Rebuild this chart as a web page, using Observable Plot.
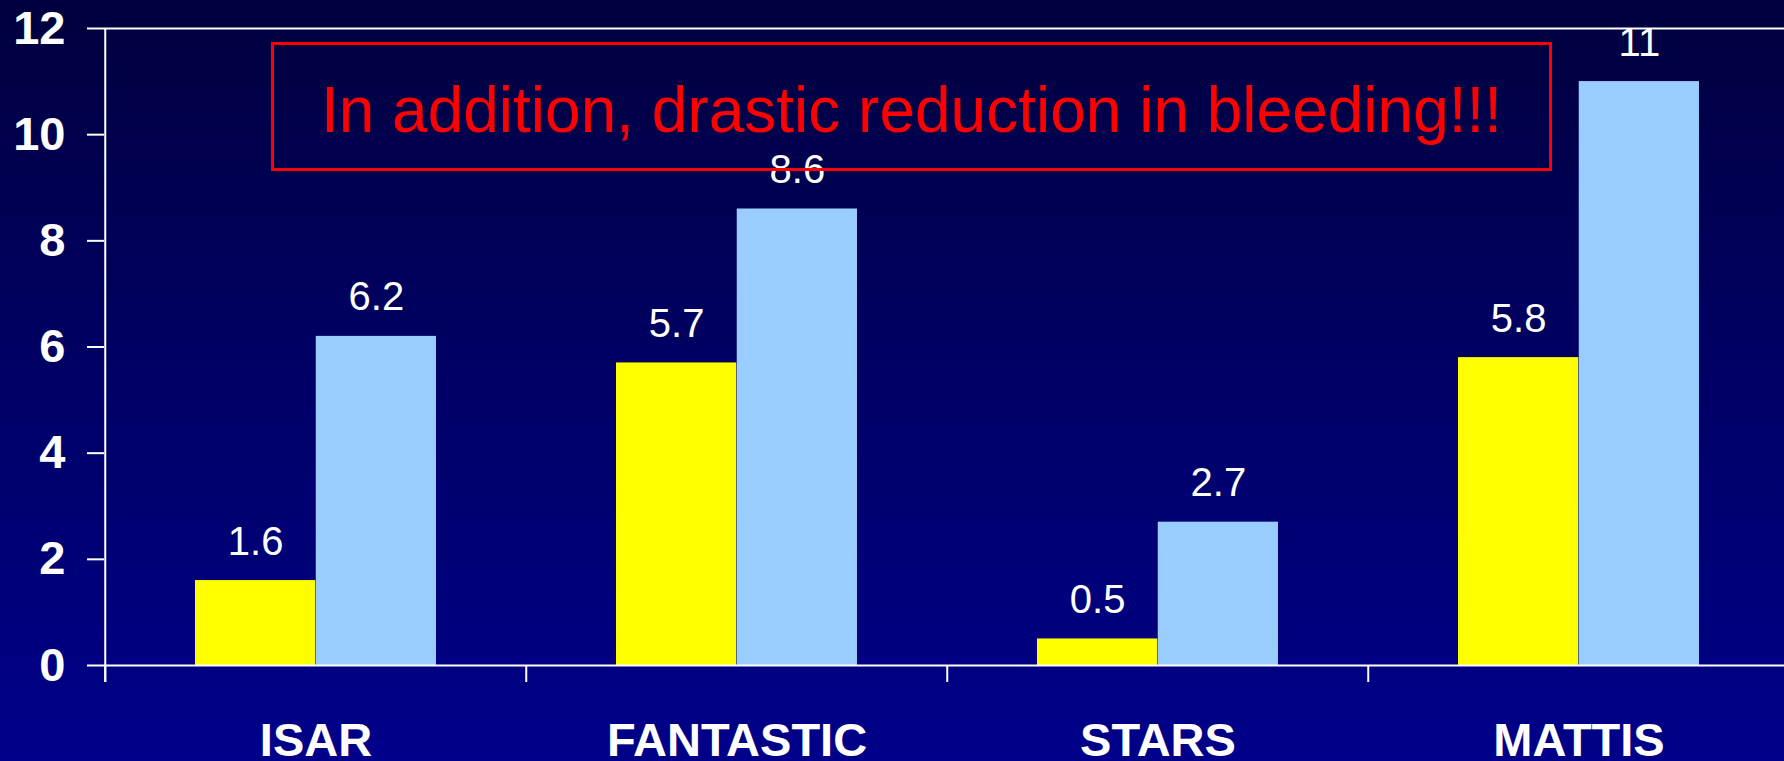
<!DOCTYPE html>
<html>
<head>
<meta charset="utf-8">
<script src="https://cdn.jsdelivr.net/npm/d3@7"></script>
<script src="https://cdn.jsdelivr.net/npm/@observablehq/plot@0.6"></script>
<style>
  html, body { margin: 0; padding: 0; }
  body {
    width: 1784px; height: 761px; overflow: hidden; position: relative;
    background: linear-gradient(to bottom, #00003e 0%, #000066 50%, #00008a 100%);
    font-family: "Liberation Sans", Arial, sans-serif;
  }
  #note {
    position: absolute; left: 271px; top: 42px; width: 1275px; height: 123px;
    border: 3px solid #ff0000; box-sizing: content-box;
    color: #ff0000; font-size: 64px; line-height: 1;
    display: flex; align-items: center; justify-content: center;
    white-space: nowrap; z-index: 2;
  }
  #chart { position: absolute; left: 0; top: 0; }
  #note span { position: relative; top: 3px; }
</style>
</head>
<body>
<div id="chart"></div>
<div id="note"><span>In addition, drastic reduction in bleeding!!!</span></div>
<script>
const categories = ["ISAR", "FANTASTIC", "STARS", "MATTIS"];
const yellowValues = [1.6, 5.7, 0.5, 5.8];
const blueValues = [6.2, 8.6, 2.7, 11];
const yTicks = [0, 2, 4, 6, 8, 10, 12];

const yellowData = categories.map((c, i) => ({category: c, value: yellowValues[i]}));
const blueData = categories.map((c, i) => ({category: c, value: blueValues[i]}));

const W = 1784, H = 761;
const xRange = [104, 1790];
const bw = (xRange[1] - xRange[0]) / categories.length;
const gap = 90;
const barW = (bw - 2 * gap) / 2;
const font = "Liberation Sans, Arial, sans-serif";

const chart = Plot.plot({
  width: W,
  height: H,
  marginTop: 28,
  marginBottom: 96,
  marginLeft: 104,
  marginRight: 0,
  style: {background: "transparent", color: "white", fontFamily: font, overflow: "visible"},
  x: {domain: categories, range: xRange, padding: 0},
  y: {domain: [0, 12], range: [665, 28]},
  marks: [
    Plot.barY(yellowData, {x: "category", y: "value", fill: "#ffff00", insetLeft: gap, insetRight: gap + barW}),
    Plot.barY(blueData, {x: "category", y: "value", fill: "#99ccff", insetLeft: gap + barW, insetRight: gap}),
    Plot.ruleY([12], {stroke: "white", strokeWidth: 2}),
    Plot.ruleY([0], {stroke: "white", strokeWidth: 2}),
    Plot.ruleX(categories, {x: d => d, y1: 0, y2: 0, insetBottom: -17, dx: -bw / 2, stroke: "white", strokeWidth: 2}),
    Plot.ruleX([categories[0]], {x: d => d, y1: 12, y2: 0, insetBottom: -17, dx: -bw / 2, stroke: "white", strokeWidth: 2}),
    Plot.text(yellowData, {x: "category", y: "value", text: d => String(d.value), dx: -barW / 2, dy: -26, lineAnchor: "bottom", fill: "white", fontSize: 40, fontFamily: font}),
    Plot.text(blueData, {x: "category", y: "value", text: d => String(d.value), dx: barW / 2, dy: -26, lineAnchor: "bottom", fill: "white", fontSize: 40, fontFamily: font}),
    Plot.axisY({ticks: yTicks, tickSize: 17, tickPadding: 22, tickFormat: d => String(d), fontSize: 47, fontWeight: "bold", stroke: "white", strokeWidth: 2, fill: "white", label: null}),
    Plot.axisX({tickSize: 0, tickPadding: 57, fontSize: 47, fontWeight: "bold", fill: "white", label: null})
  ]
});
document.getElementById("chart").appendChild(chart);
</script>
</body>
</html>
